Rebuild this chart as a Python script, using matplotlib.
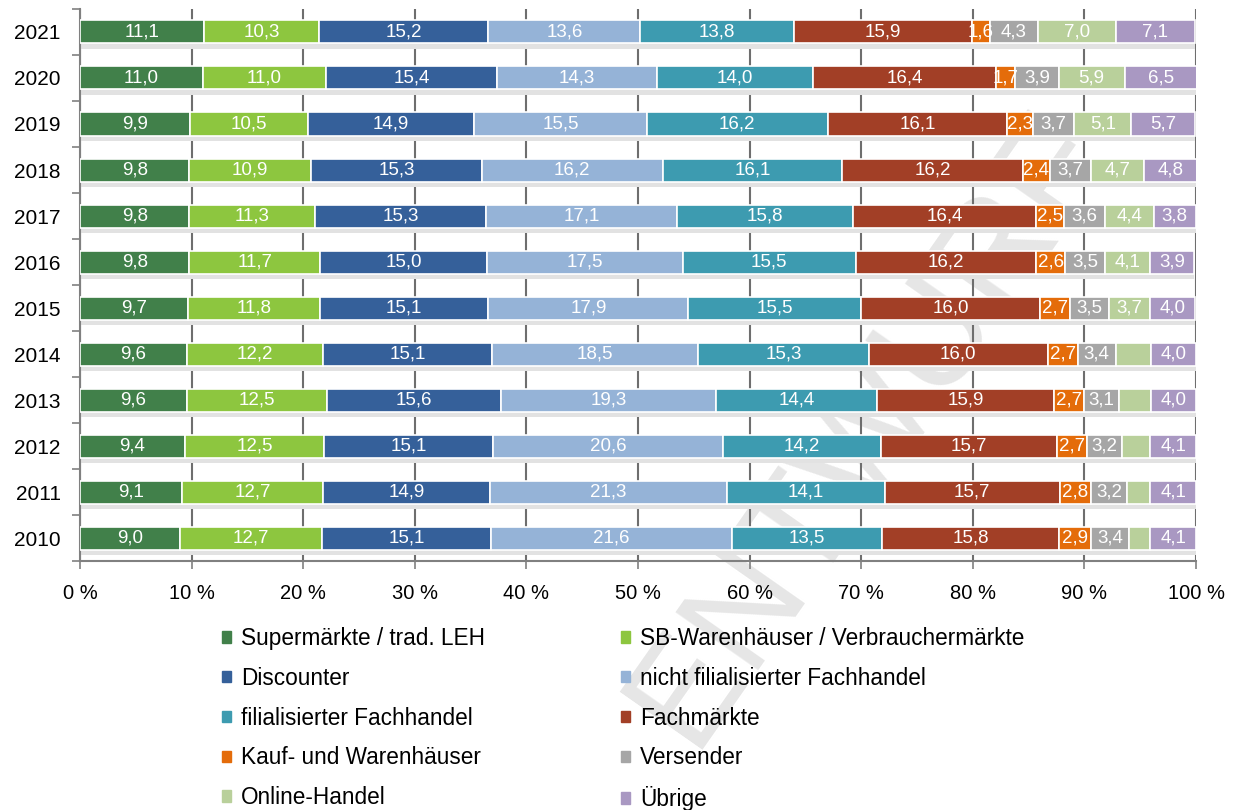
import numpy as np
import matplotlib.pyplot as plt

plt.rcParams['font.family'] = ['Liberation Sans', 'DejaVu Sans']

years = ['2021', '2020', '2019', '2018', '2017', '2016', '2015', '2014',
         '2013', '2012', '2011', '2010']
series = ['Supermärkte / trad. LEH', 'SB-Warenhäuser / Verbrauchermärkte',
          'Discounter', 'nicht filialisierter Fachhandel',
          'filialisierter Fachhandel', 'Fachmärkte',
          'Kauf- und Warenhäuser', 'Versender', 'Online-Handel', 'Übrige']
colors = ['#41804a', '#8dc63f', '#35609a', '#95b3d7', '#3d9bb0',
          '#a23f26', '#e46c0a', '#a6a6a6', '#b9d09b', '#a998c2']

supermarkt = [11.1, 11.0, 9.9, 9.8, 9.8, 9.8, 9.7, 9.6, 9.6, 9.4, 9.1, 9.0]
sb_waren = [10.3, 11.0, 10.5, 10.9, 11.3, 11.7, 11.8, 12.2, 12.5, 12.5, 12.7, 12.7]
discounter = [15.2, 15.4, 14.9, 15.3, 15.3, 15.0, 15.1, 15.1, 15.6, 15.1, 14.9, 15.1]
nicht_fil = [13.6, 14.3, 15.5, 16.2, 17.1, 17.5, 17.9, 18.5, 19.3, 20.6, 21.3, 21.6]
fil = [13.8, 14.0, 16.2, 16.1, 15.8, 15.5, 15.5, 15.3, 14.4, 14.2, 14.1, 13.5]
fachmaerkte = [15.9, 16.4, 16.1, 16.2, 16.4, 16.2, 16.0, 16.0, 15.9, 15.7, 15.7, 15.8]
kauf = [1.6, 1.7, 2.3, 2.4, 2.5, 2.6, 2.7, 2.7, 2.7, 2.7, 2.8, 2.9]
versender = [4.3, 3.9, 3.7, 3.7, 3.6, 3.5, 3.5, 3.4, 3.1, 3.2, 3.2, 3.4]
online = [7.0, 5.9, 5.1, 4.7, 4.4, 4.1, 3.7, 3.2, 2.9, 2.5, 2.1, 1.9]
uebrige = [7.1, 6.5, 5.7, 4.8, 3.8, 3.9, 4.0, 4.0, 4.0, 4.1, 4.1, 4.1]
# Online-Handel 2010-2014 has no label in the chart
show_online = [True] * 7 + [False] * 5

data = [supermarkt, sb_waren, discounter, nicht_fil, fil, fachmaerkte,
        kauf, versender, online, uebrige]

fig = plt.figure(figsize=(12.42, 8.10), dpi=100)

# faint watermark behind everything
fig.text(0.70, 0.47, 'ENTWURF', rotation=55, fontsize=105, color='#e6e6e6',
         ha='center', va='center', zorder=0)

ax = fig.add_axes([0.0644, 0.307, 0.8986, 0.682])
ax.set_zorder(1)
ax.patch.set_alpha(0)

y = np.arange(len(years))
h = 0.5
left = np.zeros(len(years))
totals = np.sum(data, axis=0)

# soft shadow under each bar
ax.barh(y + h / 2 + 0.06, totals, height=0.12, color='#e2e2e2',
        edgecolor='none', zorder=2)

for i, vals in enumerate(data):
    vals = np.array(vals)
    bars = ax.barh(y, vals, left=left, height=h, color=colors[i],
                   edgecolor='white', linewidth=1.2, zorder=3)
    for j, b in enumerate(bars):
        if i == 8 and not show_online[j]:
            continue
        ax.text(left[j] + vals[j] / 2, y[j], f'{vals[j]:.1f}'.replace('.', ','),
                ha='center', va='center', color='white', fontsize=13.5,
                zorder=4)
    left += vals

ax.set_ylim(len(years) - 0.5, -0.5)
ax.set_xlim(0, 100)
ax.set_xticks(np.arange(0, 101, 10))
ax.set_xticklabels([f'{t} %' for t in range(0, 101, 10)], fontsize=14.5)
ax.set_yticks(y)
ax.set_yticklabels(years, fontsize=15)
ax.set_yticks(np.arange(-0.5, len(years)), minor=True)
ax.tick_params(axis='y', which='major', length=0, pad=14)
ax.tick_params(axis='y', which='minor', length=6, color='#808080', width=1.2)
ax.tick_params(axis='x', length=6, color='#808080', width=1.2, pad=10,
               direction='out')
ax.grid(axis='x', color='#6e6e6e', linewidth=1.5, zorder=1)
ax.set_axisbelow(True)
for s in ['top', 'right']:
    ax.spines[s].set_visible(False)
for s in ['left', 'bottom']:
    ax.spines[s].set_color('#808080')
    ax.spines[s].set_linewidth(1.5)

# legend is filled row by row in the reference
order = [0, 2, 4, 6, 8, 1, 3, 5, 7, 9]
handles = [plt.Rectangle((0, 0), 1, 1, color=colors[k]) for k in order]
labels = [series[k] for k in order]
leg = fig.legend(handles, labels, ncol=2, loc='upper left',
                 bbox_to_anchor=(0.162, 0.251), frameon=False, fontsize=16.3,
                 handlelength=0.4, handleheight=0.4, handletextpad=0.45,
                 labelspacing=0.74, columnspacing=6.0)

fig.savefig('out.png', dpi=100)
